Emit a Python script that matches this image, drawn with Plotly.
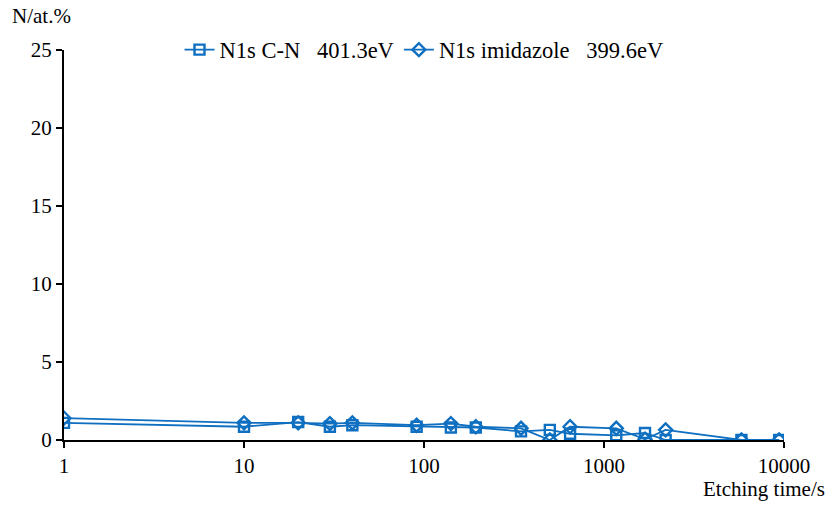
import plotly.graph_objects as go

# Etching time (s) and nitrogen content (at.%) for the two N1s components
time_cn = [1, 10, 20, 30, 40, 91, 141, 194, 346, 500, 648, 1170, 1690, 2200, 5800, 9400]
n1s_cn = [1.1, 0.85, 1.15, 0.85, 0.95, 0.85, 0.8, 0.8, 0.55, 0.65, 0.4, 0.3, 0.45, 0.0, 0.0, 0.0]

time_im = [1, 10, 20, 30, 40, 91, 141, 194, 346, 500, 648, 1170, 1690, 2200, 5800, 9400]
n1s_im = [1.4, 1.1, 1.1, 1.05, 1.1, 0.95, 1.05, 0.85, 0.75, 0.0, 0.85, 0.75, 0.05, 0.65, 0.0, 0.0]

y_ticks = [0, 5, 10, 15, 20, 25]
x_ticks = [1, 10, 100, 1000, 10000]

blue = "#0F6FC0"
font_family = "Liberation Serif"
nb = "\u00a0"

fig = go.Figure()
fig.add_trace(go.Scatter(
    x=time_cn, y=n1s_cn, mode="lines+markers",
    name="N1s C-N" + nb * 3 + "401.3eV",
    line=dict(color=blue, width=1.8),
    marker=dict(symbol="square-open", size=10, color=blue, line=dict(width=2.4, color=blue)),
))
fig.add_trace(go.Scatter(
    x=time_im, y=n1s_im, mode="lines+markers",
    name="N1s imidazole" + nb * 3 + "399.6eV",
    line=dict(color=blue, width=1.8),
    marker=dict(symbol="diamond-open", size=10, color=blue, line=dict(width=2.4, color=blue)),
))

fig.update_layout(
    width=833, height=505,
    margin=dict(l=64, r=49, t=50, b=65),
    paper_bgcolor="white", plot_bgcolor="white",
    font=dict(family=font_family, size=21, color="black"),
    showlegend=True,
    legend=dict(orientation="h", x=0.5, xanchor="center", y=1.0, yanchor="middle",
                font=dict(family=font_family, size=22.5), bgcolor="rgba(0,0,0,0)",
                itemwidth=30, tracegroupgap=0),
    xaxis=dict(type="log", range=[0, 4], tickvals=x_ticks, ticktext=[str(v) for v in x_ticks],
               showgrid=False, zeroline=False, showline=True, linecolor="black", linewidth=2,
               ticks="outside", ticklen=6, tickwidth=2, tickcolor="black",
               tickfont=dict(family=font_family, size=21)),
    yaxis=dict(range=[0, 25], tickvals=y_ticks, showgrid=False, zeroline=False,
               showline=True, linecolor="black", linewidth=2,
               ticks="outside", ticklen=6, tickwidth=2, tickcolor="black",
               tickfont=dict(family=font_family, size=21)),
    annotations=[
        dict(text="N/at.%", xref="paper", yref="paper", x=-0.075, y=1.0, yshift=20,
             xanchor="left", yanchor="bottom", showarrow=False,
             font=dict(family=font_family, size=21)),
        dict(text="Etching time/s", xref="paper", yref="paper", x=1.06, y=0, yshift=-35,
             xanchor="right", yanchor="top", showarrow=False,
             font=dict(family=font_family, size=21)),
    ],
)

fig.write_html("out.html")
